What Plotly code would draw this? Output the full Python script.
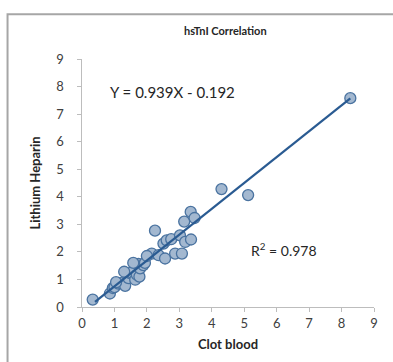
import plotly.graph_objects as go
import numpy as np

clot_blood = [0.33, 0.86, 0.95, 1.0, 1.12, 1.2, 1.33, 1.43, 1.48, 1.53, 1.64, 1.69, 1.77, 1.74,
              1.79, 1.89, 1.94, 2.15, 2.25, 2.36, 2.51, 2.56, 2.61, 2.75, 2.87, 3.02, 3.08,
              3.15, 3.18, 3.35, 3.36, 3.47, 4.3, 5.12, 8.27, 1.3, 1.58, 2.0, 1.05]
lithium_heparin = [0.27, 0.49, 0.69, 0.72, 0.85, 0.87, 0.77, 1.05, 1.23, 1.25, 0.99, 1.17, 1.1, 1.56,
                   1.4, 1.52, 1.6, 1.94, 2.77, 1.88, 2.3, 1.76, 2.42, 2.46, 1.94, 2.6, 1.94,
                   3.1, 2.36, 3.45, 2.45, 3.23, 4.28, 4.06, 7.58, 1.28, 1.6, 1.85, 0.9]

slope = 0.939
intercept = -0.192
r_squared = 0.978
title_text = "hsTnI Correlation"
x_title = "Clot blood"
y_title = "Lithium Heparin"
ticks = list(range(0, 10))
pad = "<span style='color:rgba(0,0,0,0)'>0.</span>"
y_ticktext = [str(t) + pad for t in ticks]

fit_x = np.array([0.4, max(clot_blood)])
fit_y = slope * fit_x + intercept

fig = go.Figure()
fig.add_trace(go.Scatter(
    x=clot_blood, y=lithium_heparin, mode="markers",
    marker=dict(size=11, color="#a3b8d0", line=dict(color="#4a73a0", width=1.3)),
    showlegend=False,
))
fig.add_trace(go.Scatter(
    x=fit_x, y=fit_y, mode="lines",
    line=dict(color="#2a5b92", width=2.2), showlegend=False,
))

axis_common = dict(
    range=[0, 9], tickvals=ticks, showgrid=False, zeroline=False,
    showline=True, linecolor="#bdbdbd", linewidth=1,
    ticks="outside", ticklen=4, tickcolor="#bdbdbd",
    tickfont=dict(family="Lato", size=13, color="#404040"),
)

fig.update_layout(
    width=393, height=362,
    margin=dict(l=82, r=19, t=59, b=51),
    paper_bgcolor="white", plot_bgcolor="white",
    xaxis=dict(**axis_common,
               title=dict(text="<b>" + x_title + "</b>", standoff=10,
                          font=dict(family="Lato", size=13, color="#262626"))),
    yaxis=dict(**axis_common, ticktext=y_ticktext,
               title=dict(text="<b>" + y_title + "</b>", standoff=12,
                          font=dict(family="Lato", size=13, color="#262626"))),
    annotations=[
        dict(text="<b>" + title_text + "</b>", xref="paper", yref="paper", x=0.49, y=1.115,
             yanchor="middle", showarrow=False, font=dict(family="Lato", size=11, color="#262626")),
        dict(text="Y = %.3fX - %.3f" % (slope, abs(intercept)), xref="x", yref="y",
             x=0.8, y=7.82, xanchor="left", showarrow=False,
             font=dict(family="Lato", size=15, color="#262626")),
        dict(text="R<sup>2</sup> = %.3f" % r_squared, xref="x", yref="y",
             x=5.15, y=2.07, xanchor="left", showarrow=False,
             font=dict(family="Lato", size=14, color="#262626")),
    ],
    shapes=[
        dict(type="rect", xref="paper", yref="paper", x0=-0.255, x1=1.3, y0=-0.4, y1=1.18,
             line=dict(color="#a6a6a6", width=2), fillcolor="rgba(0,0,0,0)", layer="below"),
    ],
)

fig.write_html("out.html")
